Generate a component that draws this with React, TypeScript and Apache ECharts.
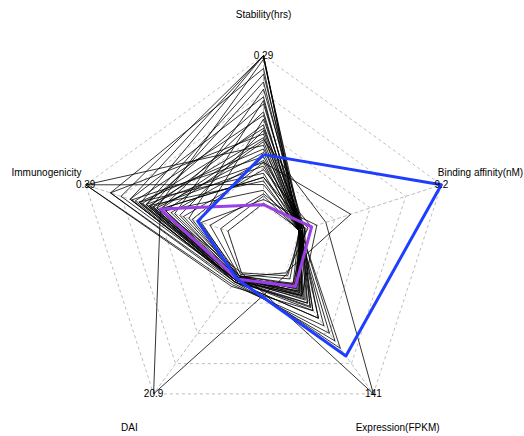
import React, { useEffect, useRef } from "react";
import * as echarts from "echarts";

// Axes in drawing order (counter-clockwise from top)
const axisNames = ["Stability(hrs)", "Immunogenicity", "DAI", "Expression(FPKM)", "Binding affinity(nM)"];
const axisMax = [0.29, 0.39, 20.9, 141, 9.2];
const axisMaxLabels = ["0.29", "0.39", "20.9", "141", "9.2"];

// Background peptides (black lines), index-aligned across the five arrays
const stability = [
  0.29, 0.29, 0.283, 0.265, 0.239, 0.225, 0.21, 0.203, 0.196, 0.181,
  0.174, 0.167, 0.156, 0.149, 0.145, 0.138, 0.131, 0.123, 0.116, 0.109,
  0.102, 0.094, 0.087, 0.083, 0.076, 0.069, 0.062, 0.054, 0.04, 0.047,
  0.083, 0.029, 0.127, 0.054, 0.004, 0.018, 0.022, 0.011, 0.29, 0.254,
];
const immunogenicity = [
  0.239, 0.268, 0.195, 0.322, 0.21, 0.146, 0.268, 0.107, 0.224, 0.185,
  0.254, 0.078, 0.205, 0.234, 0.132, 0.322, 0.215, 0.171, 0.39, 0.244,
  0.195, 0.263, 0.156, 0.224, 0.205, 0.122, 0.244, 0.185, 0.39, 0.215,
  0.098, 0.171, 0.185, 0.185, 0.0, 0.02, 0.049, 0.073, 0.293, 0.224,
];
const dai = [
  1.05, 1.31, 0.78, 1.57, 1.05, 0.52, 1.31, 0.78, 1.05, 1.31,
  1.57, 0.52, 1.05, 1.31, 0.78, 1.83, 1.05, 0.78, 2.09, 1.31,
  1.05, 1.57, 0.78, 1.31, 1.05, 0.52, 1.31, 1.05, 2.35, 1.57,
  0.78, 1.05, 0.0, 20.9, 0.0, 0.26, 0.52, 0.78, 1.31, 1.05,
];
const expression = [
  21.2, 26.4, 17.6, 35.3, 14.1, 22.9, 44.1, 17.6, 31.7, 12.3,
  52.9, 19.4, 28.2, 38.8, 15.9, 70.5, 24.7, 17.6, 61.7, 35.3,
  22.9, 79.3, 17.6, 30.0, 88.1, 14.1, 26.4, 21.2, 44.1, 52.9,
  0.0, 17.6, 141, 1.8, 3.5, 7.1, 12.3, 26.4, 40.5, 17.6,
];
const binding = [
  0.12, 0.0, 0.23, 0.0, 0.12, 0.35, 0.0, 0.12, 0.23, 0.0,
  0.12, 0.23, 0.0, 0.35, 0.12, 0.0, 0.23, 0.12, 0.0, 0.23,
  0.0, 0.12, 0.35, 0.0, 0.12, 0.81, 0.0, 0.23, 0.12, 0.0,
  3.34, 0.0, 1.73, 0.58, 0.12, 0.0, 0.46, 1.15, 0.0, 0.23,
];

// Highlighted peptides: [stability, immunogenicity, DAI, expression, binding]
const bluePeptide = [0.098, 0.083, 1.05, 96.9, 9.2];
const purplePeptide = [0.001, 0.185, 1.05, 15.9, 0.81];

const CX = 263.5;
const CY = 242.6;
const R = 187;
const GRID = "#bdbdbd";
const FONT = '10px "Liberation Sans", Arial, Helvetica, sans-serif';

export default function App() {
  const ref = useRef<HTMLDivElement>(null);

  useEffect(() => {
    if (!ref.current) return;
    const chart = echarts.init(ref.current, null, { renderer: "svg" });

    const blackData = stability.map((_, i) => ({
      value: [stability[i], immunogenicity[i], dai[i], expression[i], binding[i]],
    }));

    const dir = (i: number) => {
      const a = ((90 + i * 72) * Math.PI) / 180;
      return [Math.cos(a), -Math.sin(a)];
    };

    const graphics: any[] = [];
    axisNames.forEach((n, i) => {
      const [dx, dy] = dir(i);
      graphics.push({
        type: "text",
        x: CX + dx * R * 1.22,
        y: CY + dy * R * 1.22,
        silent: true,
        style: {
          text: n,
          font: FONT,
          fill: "#000",
          align: "center",
          verticalAlign: "middle",
          textAlign: "center",
          textVerticalAlign: "middle",
        },
      });
      graphics.push({
        type: "text",
        x: CX + dx * R,
        y: CY + dy * R,
        z: 100,
        silent: true,
        style: {
          text: axisMaxLabels[i],
          font: FONT,
          fill: "#000",
          align: "center",
          verticalAlign: "middle",
          textAlign: "center",
          textVerticalAlign: "middle",
        },
      });
    });

    chart.setOption({
      animation: false,
      backgroundColor: "#fff",
      radar: {
        center: [CX, CY],
        radius: R,
        startAngle: 90,
        shape: "polygon",
        splitNumber: 5,
        indicator: axisNames.map((n, i) => ({ name: n, min: -axisMax[i] / 4, max: axisMax[i] })),
        axisName: { show: false },
        splitLine: { lineStyle: { color: GRID, type: [3, 3], width: 1 } },
        splitArea: { show: false },
        axisLine: { lineStyle: { color: GRID, type: [3, 3], width: 1 } },
      },
      series: [
        {
          type: "radar",
          silent: true,
          symbol: "none",
          data: [{ value: [0, 0, 0, 0, 0] }],
          lineStyle: { color: GRID, type: [3, 3], width: 1 },
          areaStyle: { color: "#fff", opacity: 1 },
        },
        {
          type: "radar",
          symbol: "none",
          data: blackData,
          lineStyle: { color: "#000", width: 0.8 },
        },
        {
          type: "radar",
          symbol: "none",
          data: [{ value: purplePeptide }],
          lineStyle: { color: "#9b3fe6", width: 3 },
        },
        {
          type: "radar",
          symbol: "none",
          data: [{ value: bluePeptide }],
          lineStyle: { color: "#1f3dff", width: 3 },
        },
      ],
      graphic: graphics,
    });

    return () => chart.dispose();
  }, []);

  return (
    <div
      ref={ref}
      style={{ position: "absolute", left: 0, top: 0, width: 524, height: 436 }}
    />
  );
}
